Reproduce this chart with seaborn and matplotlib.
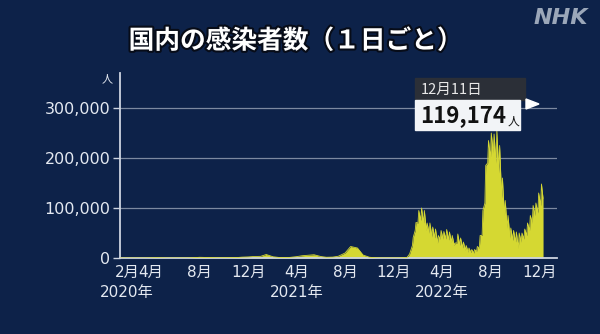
import matplotlib
matplotlib.use("Agg")
import matplotlib.pyplot as plt
import matplotlib.dates as mdates
import matplotlib.patheffects as pe
import matplotlib.transforms as mtrans
from matplotlib.patches import Rectangle, Polygon
from matplotlib.ticker import FuncFormatter
import pandas as pd
import seaborn as sns

# ---------------- data ----------------
# 2020-2021: daily new cases on the 1st and 15th of each month
early_values = [
    0, 2, 10, 15, 40, 250, 550, 200, 40, 40, 60, 150, 500, 1400, 1100,
    600, 500, 550, 650, 800, 1700, 2200, 3000,
    3300, 7000, 2500, 1200, 1000, 1200, 2700, 4500, 5500, 6500, 3000, 1500,
    1800, 3500, 10000, 23000, 20000, 6000, 1500, 500, 150, 150, 100, 200,
]
early_dates = pd.date_range("2020-01-15", "2021-12-31", freq="SMS")

# 2022: Monday (low) and Wednesday (high) daily counts of every week
monday_values = [
    800, 8000, 25000, 55000, 70000, 75000, 70000, 55000, 50000, 42000,
    40000, 30000, 38000, 38000, 38000, 36000, 32000, 25000, 30000, 25000,
    20000, 16000, 12000, 11000, 10000, 13000, 20000, 45000, 110000, 190000,
    200000, 210000, 190000, 170000, 120000, 85000, 60000, 40000, 35000, 32000,
    20000, 32000, 38000, 45000, 55000, 70000, 85000, 90000, 105000,
]
monday_dates = pd.date_range("2022-01-03", periods=len(monday_values), freq="7D")
wednesday_values = [
    2600, 13000, 41000, 71000, 95000, 100000, 95000, 70000, 70000, 62000,
    58000, 45000, 55000, 53000, 57000, 52000, 45000, 30000, 48000, 40000,
    32000, 25000, 20000, 17000, 17000, 23000, 45000, 95000, 185000, 235000,
    250000, 248000, 255000, 225000, 160000, 115000, 85000, 60000, 55000, 52000,
    50000, 50000, 58000, 70000, 85000, 105000, 110000, 130000, 148000,
]
wednesday_dates = pd.date_range("2022-01-05", periods=len(wednesday_values), freq="7D")
last_date = ["2022-12-11"]
last_value = [119174]

month_ticks = ["2020-02-01", "2020-04-01", "2020-08-01", "2020-12-01",
               "2021-04-01", "2021-08-01", "2021-12-01",
               "2022-04-01", "2022-08-01", "2022-12-01"]
month_labels = ["2月", "4月", "8月", "12月", "4月", "8月", "12月", "4月", "8月", "12月"]
year_ticks = ["2020-02-01", "2021-04-01", "2022-04-01"]
year_labels = ["2020年", "2021年", "2022年"]
y_ticks = [0, 100000, 200000, 300000]

title = "国内の感染者数（１日ごと）"
callout_date = "12月11日"
callout_value = "119,174"
unit = "人"

df = pd.concat([
    pd.DataFrame({"date": early_dates, "cases": early_values}),
    pd.DataFrame({"date": monday_dates, "cases": monday_values}),
    pd.DataFrame({"date": wednesday_dates, "cases": wednesday_values}),
    pd.DataFrame({"date": pd.to_datetime(last_date), "cases": last_value}),
]).sort_values("date").reset_index(drop=True)

# ---------------- style ----------------
sns.set_theme(style="dark")
plt.rcParams['font.family'] = ['DejaVu Sans', 'Noto Sans CJK JP']

BG = "#0d2249"
YEL = "#d5d832"
TXT = "#e4e9f1"
GRID = "#7c89a0"
SPINE = "#cdd4e0"
JP = ['Noto Sans CJK JP', 'DejaVu Sans']

W, H = 600, 334
fig = plt.figure(figsize=(W / 100, H / 100), dpi=100, facecolor=BG)


def fx(x):
    return x / W


def fy(y):
    return 1 - y / H


ax = fig.add_axes([fx(120), fy(258), fx(557) - fx(120), fy(73) - fy(258)])
ax.set_facecolor(BG)

ax.fill_between(df["date"], df["cases"], color=YEL, lw=0, zorder=2)
sns.lineplot(data=df, x="date", y="cases", ax=ax, color=YEL, lw=0.6, zorder=3)

ax.set_xlim(pd.Timestamp("2020-01-14"), pd.Timestamp("2023-01-15"))
ax.set_ylim(0, 370000)
ax.set_xlabel("")
ax.set_ylabel("")

ax.set_yticks(y_ticks)
ax.yaxis.set_major_formatter(FuncFormatter(lambda v, p: f"{int(v):,}"))
ax.yaxis.grid(True, color=GRID, lw=0.9, zorder=1)
ax.xaxis.grid(False)
ax.set_axisbelow(True)

ax.set_xticks(pd.to_datetime(month_ticks))
ax.set_xticklabels(month_labels)
ax.tick_params(axis="x", colors=SPINE, labelcolor=TXT, labelsize=11, length=4,
               width=1, direction="out", pad=1)
ax.tick_params(axis="y", colors=SPINE, labelcolor=TXT, labelsize=11.5, length=5,
               width=1, direction="out", pad=2, left=True)

for s in ["top", "right"]:
    ax.spines[s].set_visible(False)
for s in ["left", "bottom"]:
    ax.spines[s].set_visible(True)
    ax.spines[s].set_color(SPINE)
    ax.spines[s].set_linewidth(1.3)

bt = mtrans.blended_transform_factory(ax.transData, fig.transFigure)
for d, lab in zip(year_ticks, year_labels):
    ax.text(mdates.date2num(pd.Timestamp(d)), fy(293), lab, transform=bt,
            color=TXT, fontsize=11, ha="center", va="center")

# unit above y axis
fig.text(fx(107), fy(79), unit, color=TXT, fontsize=8, ha="center", va="center",
         family=JP)

# title
fig.text(fx(296), fy(41), title, color="white", fontsize=18.5, weight="bold",
         ha="center", va="center", family=JP,
         path_effects=[pe.withStroke(linewidth=3, foreground="#070c18")])

# NHK logo text
fig.text(fx(561), fy(18), "NHK", color="#9ba7b9", fontsize=16, weight="bold",
         style="italic", ha="center", va="center", family="DejaVu Sans")

# callout
fig.add_artist(Rectangle((fx(415), fy(100)), 110 / W, 22 / H,
                         transform=fig.transFigure, color="#2b2f37", zorder=5))
fig.add_artist(Rectangle((fx(415), fy(130)), 105 / W, 30 / H,
                         transform=fig.transFigure, color="#f2f4f7", zorder=6))
fig.add_artist(Polygon([[fx(526), fy(99)], [fx(526), fy(109)], [fx(539), fy(104)]],
                       closed=True, transform=fig.transFigure, color="white", zorder=6))
fig.text(fx(421), fy(90), callout_date, color="#e8e8e8", fontsize=10.5,
         ha="left", va="center", zorder=7, family=JP)
fig.text(fx(420), fy(116), callout_value, color="#121212", fontsize=16,
         weight="bold", ha="left", va="center", zorder=7, family=JP)
fig.text(fx(508), fy(121), unit, color="#121212", fontsize=8.5,
         ha="left", va="center", zorder=7, family=JP)

fig.savefig("out.png", dpi=100, facecolor=BG)
